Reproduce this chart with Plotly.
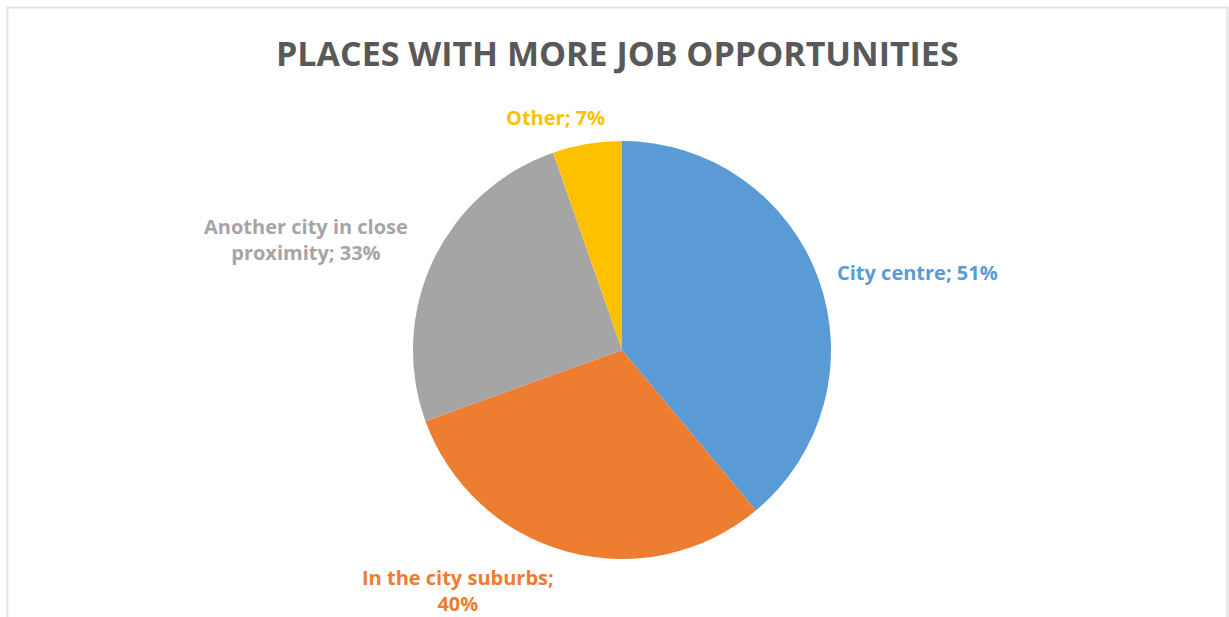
import plotly.graph_objects as go

# Survey answers (multiple choice, so shares do not add up to 100)
categories = ["City centre", "In the city suburbs", "Another city in close proximity", "Other"]
values = [51, 40, 33, 7]
colors = ["#5B9BD5", "#ED7D31", "#A5A5A5", "#FFC000"]

title_text = "PLACES WITH MORE JOB OPPORTUNITIES"

W, H = 1229, 617
cx, cy, r = 622, 350, 209

fig = go.Figure(
    go.Pie(
        labels=categories,
        values=values,
        sort=False,
        direction="clockwise",
        rotation=0,
        textinfo="none",
        hoverinfo="label+value",
        marker=dict(colors=colors, line=dict(color="white", width=0)),
        showlegend=False,
        domain=dict(
            x=[(cx - r) / W, (cx + r) / W],
            y=[1 - (cy + r) / H, 1 - (cy - r) / H],
        ),
    )
)

# Data labels placed around the pie: (x, y, anchor)
label_layout = [
    (835, 272, "left"),
    (458, 590, "center"),
    (306, 240, "center"),
    (555, 118, "center"),
]
label_texts = [
    "%s; %d%%",
    "%s;<br>%d%%",
    None,
    "%s; %d%%",
]

annotations = []
for cat, val, col, (lx, ly, anc), fmt in zip(categories, values, colors, label_layout, label_texts):
    if fmt is None:
        words = cat.split(" ")
        text = " ".join(words[:4]) + "<br>" + " ".join(words[4:]) + "; %d%%" % val
    else:
        text = fmt % (cat, val)
    annotations.append(
        dict(
            x=lx / W, y=1 - ly / H, xref="paper", yref="paper",
            xanchor=anc, yanchor="middle", align="center",
            text="<b>%s</b>" % text, showarrow=False,
            font=dict(family="Open Sans", size=20, color=col),
        )
    )

annotations.append(
    dict(
        x=617 / W, y=1 - 53 / H, xref="paper", yref="paper",
        xanchor="center", yanchor="middle",
        text="<b>%s</b>" % title_text, showarrow=False,
        font=dict(family="Open Sans", size=34, color="#595959"),
    )
)

fig.update_layout(
    width=W, height=H,
    margin=dict(l=0, r=0, t=0, b=0),
    paper_bgcolor="white", plot_bgcolor="white",
    annotations=annotations,
    shapes=[
        dict(type="rect", xref="paper", yref="paper",
             x0=7.5 / W, x1=1227.5 / W, y0=-0.01, y1=1 - 7.5 / H,
             line=dict(color="#E3E3E3", width=2), fillcolor="rgba(0,0,0,0)", layer="below"),
    ],
)

fig.write_html("out.html")
